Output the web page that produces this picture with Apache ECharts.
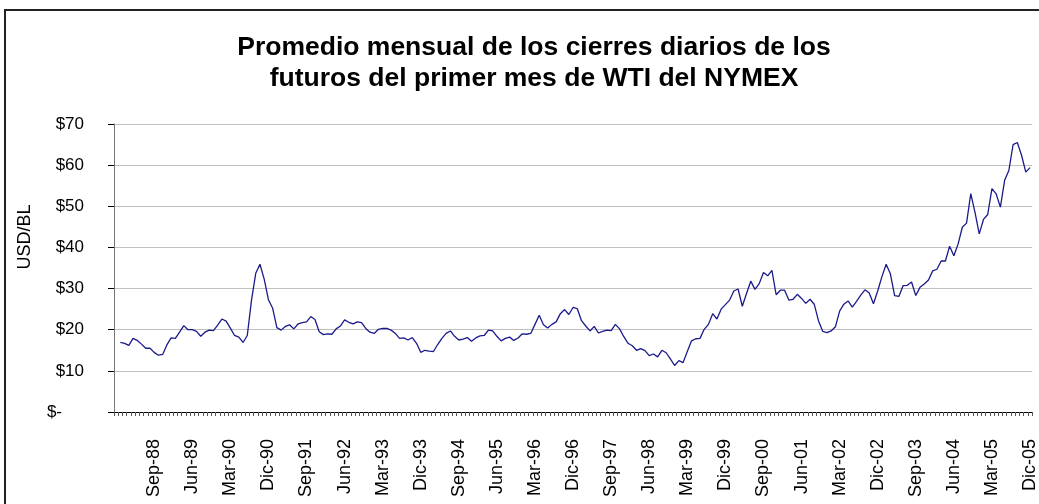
<!DOCTYPE html>
<html>
<head>
<meta charset="utf-8">
<script src="https://cdn.jsdelivr.net/npm/echarts@6/dist/echarts.min.js"></script>
<style>
  html, body { margin: 0; padding: 0; background: #fff; }
  #chart { width: 1039px; height: 504px; }
</style>
</head>
<body>
<div id="chart"></div>
<script>
// meses en español, años del eje
var meses = ['Ene', 'Feb', 'Mar', 'Abr', 'May', 'Jun', 'Jul', 'Ago', 'Sep', 'Oct', 'Nov', 'Dic'];
var anios = [88, 89, 90, 91, 92, 93, 94, 95, 96, 97, 98, 99, 0, 1, 2, 3, 4, 5];

// promedio mensual WTI (USD/BL)
var wti1988 = [16.9, 16.7, 16.2, 17.9, 17.4, 16.5, 15.5, 15.5, 14.5, 13.8, 14.0, 16.3];
var wti1989 = [18.0, 17.9, 19.4, 21.0, 20.0, 20.0, 19.6, 18.4, 19.4, 19.9, 19.8, 21.1];
var wti1990 = [22.6, 22.1, 20.4, 18.6, 18.2, 16.9, 18.6, 27.2, 33.7, 35.9, 32.3, 27.3];
var wti1991 = [25.2, 20.5, 19.9, 20.8, 21.2, 20.2, 21.4, 21.7, 21.9, 23.2, 22.5, 19.5];
var wti1992 = [18.8, 19.0, 18.9, 20.2, 20.9, 22.4, 21.8, 21.4, 21.9, 21.7, 20.3, 19.4];
var wti1993 = [19.1, 20.1, 20.3, 20.3, 19.9, 19.1, 17.9, 18.0, 17.5, 18.1, 16.7, 14.5];
var wti1994 = [15.0, 14.8, 14.7, 16.4, 17.9, 19.1, 19.7, 18.4, 17.5, 17.7, 18.1, 17.2];
var wti1995 = [18.0, 18.5, 18.6, 19.9, 19.7, 18.4, 17.3, 17.9, 18.2, 17.4, 18.0, 19.0];
var wti1996 = [18.9, 19.1, 21.3, 23.5, 21.2, 20.4, 21.3, 21.9, 23.9, 24.9, 23.7, 25.4];
var wti1997 = [25.1, 22.2, 20.9, 19.7, 20.8, 19.2, 19.6, 19.9, 19.8, 21.3, 20.2, 18.3];
var wti1998 = [16.7, 16.1, 15.0, 15.4, 14.9, 13.7, 14.1, 13.4, 15.0, 14.4, 12.9, 11.3];
var wti1999 = [12.5, 12.0, 14.7, 17.3, 17.8, 17.9, 20.1, 21.3, 23.9, 22.6, 25.0, 26.1];
var wti2000 = [27.2, 29.4, 29.9, 25.7, 28.8, 31.8, 29.8, 31.2, 33.9, 33.1, 34.4, 28.5];
var wti2001 = [29.6, 29.6, 27.2, 27.4, 28.6, 27.6, 26.4, 27.4, 26.2, 22.2, 19.6, 19.3];
var wti2002 = [19.7, 20.7, 24.5, 26.2, 27.0, 25.5, 26.9, 28.4, 29.7, 28.9, 26.3, 29.4];
var wti2003 = [32.9, 35.9, 33.6, 28.3, 28.1, 30.7, 30.8, 31.6, 28.3, 30.3, 31.1, 32.1];
var wti2004 = [34.3, 34.7, 36.7, 36.7, 40.3, 38.0, 40.8, 44.9, 45.9, 53.1, 48.5, 43.3];
var wti2005 = [46.8, 48.0, 54.3, 53.0, 49.8, 56.3, 58.7, 65.0, 65.5, 62.4, 58.3, 59.4];

var porAnio = [wti1988, wti1989, wti1990, wti1991, wti1992, wti1993, wti1994, wti1995, wti1996,
  wti1997, wti1998, wti1999, wti2000, wti2001, wti2002, wti2003, wti2004, wti2005];

// la serie original arranca con una celda vacía (Dic-87)
var categorias = ['Dic-87'];
var valores = [null];
for (var a = 0; a < anios.length; a++) {
  for (var m = 0; m < 12; m++) {
    var yy = anios[a] < 10 ? '0' + anios[a] : '' + anios[a];
    categorias.push(meses[m] + '-' + yy);
    valores.push(porAnio[a][m]);
  }
}

var chart = echarts.init(document.getElementById('chart'));

var option = {
  animation: false,
  textStyle: { fontFamily: 'Liberation Sans, Arial, sans-serif' },
  title: {
    text: 'Promedio mensual de los cierres diarios de los\nfuturos del primer mes de WTI del NYMEX',
    left: 529,
    top: 27,
    textAlign: 'center',
    textStyle: { fontSize: 26.5, fontWeight: 'bold', color: '#000', lineHeight: 31 }
  },
  grid: { left: 114, right: 3, top: 124, bottom: 92 },
  xAxis: {
    type: 'category',
    data: categorias,
    boundaryGap: true,
    axisLine: { lineStyle: { color: '#000', width: 1 } },
    axisTick: { show: true, interval: 0, length: 4, lineStyle: { color: '#555' } },
    axisLabel: {
      rotate: 90,
      margin: 27,
      fontSize: 18,
      color: '#000',
      interval: function (i) { return i >= 9 && (i - 9) % 9 === 0; }
    },
    splitLine: { show: false }
  },
  yAxis: {
    type: 'value',
    min: 0,
    max: 70,
    interval: 10,
    axisLine: { show: true, lineStyle: { color: '#777', width: 1 } },
    axisTick: { show: true, length: 6, inside: false, lineStyle: { color: '#000' } },
    axisLabel: {
      margin: 30,
      fontSize: 17,
      color: '#000',
      formatter: function (v) { return v === 0 ? '{z|$-}' : '$' + v; },
      rich: { z: { fontSize: 17, color: '#000', padding: [0, 22, 0, 0] } }
    },
    splitLine: { show: true, lineStyle: { color: '#c0c0c0', width: 1 } }
  },
  graphic: [
    {
      type: 'rect',
      shape: { x: 5, y: 10, width: 1100, height: 600 },
      style: { fill: null, stroke: '#222', lineWidth: 2 },
      silent: true
    },
    {
      type: 'text',
      x: 25,
      y: 237,
      rotation: Math.PI / 2,
      style: {
        text: 'USD/BL',
        fontSize: 18,
        fontFamily: 'Liberation Sans, Arial, sans-serif',
        fill: '#000',
        align: 'center',
        verticalAlign: 'middle'
      }
    }
  ],
  series: [
    {
      type: 'line',
      name: 'WTI',
      data: valores,
      showSymbol: false,
      connectNulls: false,
      lineStyle: { color: '#1a1a8c', width: 1.3 },
      itemStyle: { color: '#1a1a8c' }
    }
  ]
};

chart.setOption(option);
</script>
</body>
</html>
